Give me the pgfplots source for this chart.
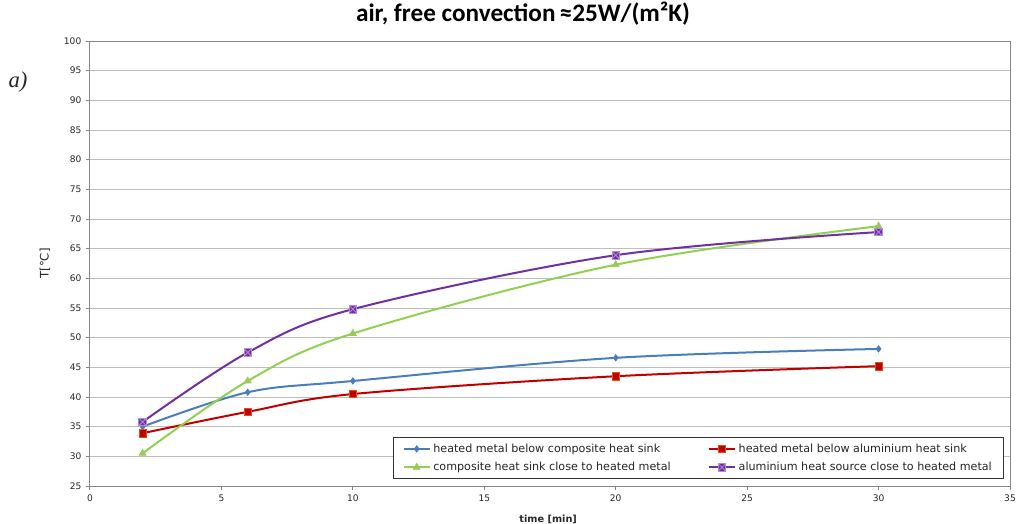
\documentclass[border=0pt]{standalone}
\usepackage{fontspec}
\setmainfont{DejaVu Sans}
\newfontfamily\titlefont{Carlito}
\newfontfamily\serifit{Liberation Serif}
\usepackage{pgfplots}
\pgfplotsset{compat=1.18}
\definecolor{blueC}{HTML}{4A7EBB}
\definecolor{redC}{HTML}{C00000}
\definecolor{redB}{HTML}{E4500A}
\definecolor{greenC}{HTML}{92D050}
\definecolor{greenM}{HTML}{9BC85A}
\definecolor{purpleC}{HTML}{7030A0}
\definecolor{purpleB}{HTML}{B68AD8}
\definecolor{gridC}{HTML}{BEBEBE}
\definecolor{axisC}{HTML}{868686}
\definecolor{txtC}{HTML}{262626}
\pgfdeclareplotmark{sqx}{%
  \pgfpathrectangle{\pgfpoint{-\pgfplotmarksize}{-\pgfplotmarksize}}{\pgfpoint{2\pgfplotmarksize}{2\pgfplotmarksize}}%
  \pgfusepathqfillstroke
  \pgfpathmoveto{\pgfpoint{-\pgfplotmarksize}{-\pgfplotmarksize}}%
  \pgfpathlineto{\pgfpoint{\pgfplotmarksize}{\pgfplotmarksize}}%
  \pgfpathmoveto{\pgfpoint{-\pgfplotmarksize}{\pgfplotmarksize}}%
  \pgfpathlineto{\pgfpoint{\pgfplotmarksize}{-\pgfplotmarksize}}%
  \pgfusepathqstroke}
\begin{document}
\begin{tikzpicture}
\useasboundingbox (-67.5pt,-28.5pt) rectangle (694.5pt,364.5pt);
\begin{axis}[
  scale only axis, width=690pt, height=333.75pt,
  at={(0,0)}, anchor=south west,
  xmin=0, xmax=35, ymin=25, ymax=100,
  xtick={0,5,...,35}, ytick={25,30,...,100},
  ymajorgrids, grid style={gridC, line width=0.75pt},
  axis line style={axisC, line width=0.75pt},
  tick align=outside, major tick length=3pt,
  tick style={axisC, line width=0.75pt},
  xtick pos=bottom, ytick pos=left,
  /pgf/number format/assume math mode=true,
  ticklabel style={font=\fontsize{6.8}{8}\selectfont, text=txtC},
  xlabel={\textbf{time [min]}},
  ylabel={T[°C]},
  xlabel style={at={(axis description cs:0.498,-0.0742)}, anchor=center, font=\fontsize{7.3}{8}\selectfont, text=txtC},
  ylabel style={at={(axis description cs:-0.0489,0.5)}, anchor=center, font=\fontsize{8.8}{10}\selectfont, text=txtC},
  title={air, free convection\,≈25W/(m²K)},
  title style={at={(axis description cs:0.4707,1)}, anchor=center, yshift=14.5pt, font=\titlefont\bfseries\fontsize{18.9}{22}\selectfont, text=black},
  clip=false,
  legend columns=2,
  legend cell align=left,
  legend style={at={(axis description cs:0.3293,0.0157)}, anchor=south west,
    draw=black!80, line width=0.6pt, font=\fontsize{8.35}{10}\selectfont, text=txtC,
    inner xsep=7pt, inner ysep=2.5pt, row sep=2pt,
    /tikz/every even column/.append style={column sep=0pt}},
  legend image code/.code={\draw[mark repeat=2,mark phase=2] plot coordinates {(0pt,0pt)(9.75pt,0pt)(19.5pt,0pt)};},
  every axis plot/.append style={line width=1.5pt, smooth, tension=0.55},
]
\addplot[blueC, mark=diamond*, mark size=2.4pt, mark options={fill=blueC, draw=blueC, line width=0.5pt}]
  coordinates {(2,35.0) (6,40.8) (10,42.7) (20,46.6) (30,48.1)};
\addlegendentry{\makebox[204pt][l]{heated metal below composite heat sink}}
\addplot[redC, mark=square*, mark size=2.8pt, mark options={fill=redC, draw=redB, line width=0.5pt}]
  coordinates {(2,33.9) (6,37.5) (10,40.5) (20,43.5) (30,45.2)};
\addlegendentry{heated metal below aluminium heat sink}
\addplot[greenC, mark=triangle*, mark size=3pt, mark options={fill=greenM, draw=greenM, line width=0.5pt}]
  coordinates {(2,30.5) (6,42.7) (10,50.7) (20,62.3) (30,68.8)};
\addlegendentry{\makebox[204pt][l]{composite heat sink close to heated metal}}
\addplot[purpleC, mark=sqx, mark size=2.8pt, mark options={fill=purpleC, draw=purpleB, line width=0.6pt}]
  coordinates {(2,35.8) (6,47.5) (10,54.8) (20,63.9) (30,67.8)};
\addlegendentry{aluminium heat source close to heated metal}
\node[font=\serifit\itshape\fontsize{17}{20}\selectfont, text=txtC] at (axis description cs:-0.0783,0.908) {a)};
\end{axis}
\end{tikzpicture}
\end{document}
